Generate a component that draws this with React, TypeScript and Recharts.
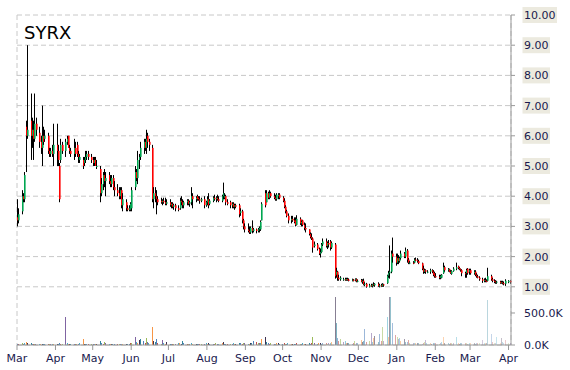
import { Bar, BarChart, CartesianGrid, Cell, ComposedChart, XAxis, YAxis } from "recharts";

const GREEN = "#00A651";
const RED = "#FF0000";
const NAVY = "#1A1A4E";
const AXIS = "#999999";
const FONT = "DejaVu Sans, Verdana, sans-serif";

const MONTH_LABELS = ["Mar", "Apr", "May", "Jun", "Jul", "Aug", "Sep", "Oct", "Nov", "Dec", "Jan", "Feb", "Mar", "Apr"];
const PRICE_TICKS = [1, 2, 3, 4, 5, 6, 7, 8, 9, 10];
const VOLUME_TICKS = [0, 500];

// one row per month, one value per trading day (prices in $, volume in thousands)
const OPEN = [
  [3.3, 3.2, 3.5, 4.0, 3.9, 6.3, 6.0, 6.5, 6.0, 6.2, 5.9, 6.4, 6.1, 5.8, 5.6, 6.0, 5.9, 6.0, 5.5, 5.4, 5.5, 5.4],
  [5.7, 5.5, 5.0, 5.2, 5.7, 5.5, 5.8, 6.0, 5.6, 5.5, 5.4, 5.6, 5.7, 5.4, 5.2, 5.2, 5.1, 5.2, 5.3, 5.4, 5.3],
  [5.2, 5.1, 5.2, 5.0, 4.9, 4.1, 4.4, 4.7, 4.5, 4.7, 4.5, 4.4, 4.6, 4.3, 4.2, 4.1, 4.0, 4.2, 3.7, 3.8, 3.6, 3.55, 3.55],
  [3.6, 4.3, 4.8, 4.6, 5.2, 5.3, 5.6, 5.8, 5.6, 6.0, 5.8, 5.6, 3.9, 4.1, 4.0, 3.9, 3.85, 3.8, 3.85, 3.8, 3.75],
  [3.8, 3.7, 3.75, 3.65, 3.7, 3.6, 3.6, 3.85, 3.8, 3.7, 3.8, 3.85, 3.75, 3.8, 4.0, 3.9, 4.0, 3.95, 3.9, 3.85, 3.9, 3.7],
  [3.8, 3.9, 3.75, 3.85, 3.95, 3.9, 3.95, 3.9, 3.85, 4.0, 3.95, 4.0, 3.8, 3.8, 3.7, 3.75, 3.65, 3.7, 3.7, 3.45, 3.5, 3.2, 3.0],
  [2.9, 2.85, 2.8, 2.95, 2.85, 2.9, 2.85, 2.9, 2.9, 3.2, 4.1, 3.8, 4.1, 3.95, 4.1, 4.0, 3.95, 3.9, 4.0, 4.05],
  [3.95, 3.85, 3.65, 3.5, 3.35, 3.2, 3.25, 3.2, 3.2, 3.05, 3.25, 3.1, 3.2, 3.05, 2.95, 2.9, 2.75, 2.65, 2.6, 2.35, 2.4, 2.25, 2.1],
  [2.15, 2.4, 2.5, 2.35, 2.45, 2.5, 2.3, 2.4, 1.4, 1.5, 1.3, 1.25, 1.25, 1.25, 1.22, 1.26, 1.24, 1.22, 1.24, 1.22, 1.25, 1.18],
  [1.22, 1.17, 1.2, 1.08, 1.1, 1.0, 1.05, 1.02, 1.08, 1.05, 1.1, 1.02, 1.05, 1.02, 1.08, 1.12, 1.37, 1.45, 1.5, 2.1, 2.0],
  [1.8, 1.95, 1.85, 1.95, 2.1, 2.0, 2.2, 1.9, 1.8, 1.8, 1.8, 1.9, 1.88, 1.85, 1.78, 1.6, 1.5, 1.55, 1.5, 1.5, 1.55, 1.5, 1.45],
  [1.35, 1.33, 1.3, 1.3, 1.45, 1.65, 1.55, 1.58, 1.5, 1.43, 1.52, 1.6, 1.68, 1.62, 1.58, 1.55, 1.45, 1.45, 1.6, 1.5],
  [1.55, 1.45, 1.5, 1.4, 1.35, 1.3, 1.25, 1.2, 1.22, 1.2, 1.2, 1.35, 1.25, 1.2, 1.18, 1.15, 1.17, 1.12, 1.15, 1.12, 1.1],
  [1.15, 1.2],
];

const HIGH = [
  [3.9, 3.6, 4.2, 4.1, 4.8, 6.5, 9.0, 7.4, 6.6, 6.5, 7.4, 6.6, 6.3, 6.0, 7.0, 6.3, 6.2, 6.1, 5.6, 5.6, 5.7, 6.4],
  [6.4, 5.7, 5.1, 5.9, 5.8, 5.9, 6.0, 6.0, 5.7, 5.6, 5.9, 5.8, 5.8, 5.5, 5.4, 5.3, 5.3, 5.5, 5.5, 5.5, 5.4],
  [5.3, 5.3, 5.3, 5.2, 5.0, 4.6, 4.8, 4.9, 4.8, 4.8, 4.7, 4.7, 4.7, 4.5, 4.4, 4.3, 4.3, 4.3, 4.1, 3.9, 3.7, 3.7, 3.8],
  [4.3, 5.0, 4.9, 5.5, 5.4, 5.8, 5.9, 5.9, 6.2, 6.1, 5.9, 5.7, 4.3, 4.3, 4.2, 4.0, 3.95, 3.9, 3.95, 3.95, 3.9],
  [3.9, 3.8, 3.8, 3.75, 3.75, 3.7, 3.95, 4.0, 3.9, 3.85, 3.9, 3.9, 3.85, 4.3, 4.1, 4.0, 4.05, 4.0, 4.0, 3.95, 4.0, 3.85],
  [4.0, 4.1, 3.9, 4.0, 4.05, 4.0, 4.05, 4.0, 4.05, 4.45, 4.1, 4.05, 3.9, 3.85, 3.8, 3.8, 3.75, 3.75, 3.75, 3.6, 3.55, 3.25, 3.1],
  [3.1, 3.0, 3.0, 3.2, 2.95, 2.93, 2.95, 3.0, 3.2, 3.8, 4.2, 4.2, 4.15, 4.2, 4.15, 4.1, 4.05, 4.1, 4.1, 4.1],
  [4.0, 3.93, 3.7, 3.55, 3.43, 3.35, 3.35, 3.3, 3.3, 3.37, 3.3, 3.2, 3.22, 3.13, 3.1, 2.9, 2.8, 2.77, 2.63, 2.5, 2.45, 2.3, 2.27],
  [2.45, 2.6, 2.6, 2.5, 2.55, 2.55, 2.5, 2.45, 1.63, 1.53, 1.4, 1.35, 1.3, 1.3, 1.3, 1.3, 1.28, 1.27, 1.26, 1.28, 1.28, 1.24],
  [1.26, 1.25, 1.27, 1.15, 1.13, 1.1, 1.1, 1.1, 1.15, 1.12, 1.15, 1.1, 1.1, 1.12, 1.1, 1.4, 1.53, 2.37, 2.2, 2.63, 2.1],
  [2.1, 2.05, 2.0, 2.2, 2.15, 2.3, 2.25, 1.95, 1.85, 1.85, 1.95, 1.97, 1.95, 1.9, 1.8, 1.7, 1.6, 1.58, 1.55, 1.6, 1.58, 1.55, 1.5],
  [1.45, 1.4, 1.4, 1.42, 1.8, 1.7, 1.62, 1.6, 1.55, 1.55, 1.65, 1.8, 1.7, 1.65, 1.6, 1.58, 1.5, 1.6, 1.62, 1.6],
  [1.6, 1.55, 1.55, 1.45, 1.4, 1.35, 1.3, 1.28, 1.3, 1.25, 1.63, 1.4, 1.3, 1.25, 1.22, 1.2, 1.2, 1.2, 1.2, 1.18, 1.25],
  [1.22, 1.22],
];

const LOW = [
  [3.0, 3.1, 3.4, 3.8, 3.8, 4.8, 5.9, 5.2, 5.6, 5.2, 5.8, 6.0, 5.6, 5.4, 5.0, 5.7, 5.8, 5.4, 5.3, 5.3, 5.3, 5.0],
  [5.0, 5.0, 3.8, 5.1, 5.4, 5.3, 5.7, 5.6, 5.4, 5.3, 5.2, 5.3, 5.3, 5.1, 5.1, 4.9, 5.0, 5.1, 5.2, 5.2, 5.1],
  [5.0, 5.0, 5.0, 4.9, 3.8, 4.0, 4.2, 4.3, 4.0, 4.4, 4.3, 4.3, 4.2, 4.0, 4.0, 3.9, 3.9, 3.6, 3.5, 3.5, 3.5, 3.5, 3.5],
  [3.5, 4.2, 4.5, 4.4, 4.9, 5.2, 5.4, 5.5, 5.4, 5.6, 5.5, 3.8, 3.6, 3.8, 3.4, 3.7, 3.75, 3.7, 3.75, 3.7, 3.7],
  [3.65, 3.6, 3.6, 3.55, 3.5, 3.5, 3.55, 3.7, 3.6, 3.6, 3.7, 3.7, 3.65, 3.7, 3.6, 3.8, 3.85, 3.85, 3.75, 3.8, 3.6, 3.65],
  [3.7, 3.6, 3.7, 3.8, 3.85, 3.8, 3.85, 3.8, 3.8, 3.9, 3.9, 3.7, 3.7, 3.6, 3.6, 3.6, 3.55, 3.6, 3.3, 3.35, 3.1, 2.9, 2.8],
  [2.8, 2.75, 2.75, 2.77, 2.8, 2.77, 2.8, 2.8, 2.85, 3.2, 3.63, 3.8, 3.9, 3.9, 3.95, 3.9, 3.85, 3.85, 3.9, 3.9],
  [3.8, 3.6, 3.43, 3.3, 3.1, 3.1, 3.15, 3.1, 3.0, 3.03, 3.05, 3.0, 3.0, 2.87, 2.8, 2.7, 2.6, 2.55, 2.13, 2.3, 2.2, 2.05, 1.97],
  [2.13, 2.35, 2.3, 2.25, 2.3, 2.2, 2.25, 1.27, 1.3, 1.2, 1.2, 1.2, 1.2, 1.2, 1.2, 1.2, 1.18, 1.18, 1.18, 1.18, 1.15, 1.15],
  [1.15, 1.1, 1.05, 1.02, 0.97, 0.98, 1.0, 0.98, 1.02, 1.0, 1.0, 0.98, 1.0, 1.0, 1.0, 1.1, 1.3, 1.27, 1.45, 1.8, 1.7],
  [1.75, 1.75, 1.8, 1.9, 1.95, 1.95, 1.8, 1.75, 1.75, 1.75, 1.78, 1.85, 1.8, 1.75, 1.55, 1.43, 1.45, 1.43, 1.45, 1.43, 1.45, 1.35, 1.3],
  [1.3, 1.25, 1.25, 1.28, 1.43, 1.5, 1.5, 1.48, 1.43, 1.4, 1.5, 1.55, 1.58, 1.55, 1.5, 1.35, 1.3, 1.3, 1.4, 1.4],
  [1.4, 1.4, 1.35, 1.3, 1.28, 1.2, 1.13, 1.15, 1.15, 1.15, 1.18, 1.2, 1.15, 1.12, 1.1, 1.1, 1.1, 1.1, 1.08, 1.05, 1.03],
  [1.12, 1.1],
];

const CLOSE = [
  [3.2, 3.4, 4.0, 3.9, 4.7, 6.0, 6.2, 6.0, 6.2, 5.9, 6.4, 6.2, 5.8, 5.6, 6.0, 5.8, 6.0, 5.5, 5.4, 5.5, 5.4, 5.7],
  [5.5, 5.2, 3.9, 5.7, 5.5, 5.8, 5.9, 5.6, 5.5, 5.4, 5.6, 5.4, 5.4, 5.3, 5.3, 5.0, 5.2, 5.3, 5.4, 5.3, 5.2],
  [5.1, 5.2, 5.0, 5.0, 4.1, 4.4, 4.7, 4.5, 4.6, 4.5, 4.4, 4.6, 4.3, 4.2, 4.1, 4.0, 4.2, 3.7, 3.9, 3.6, 3.55, 3.6, 3.75],
  [4.2, 4.8, 4.6, 5.2, 5.3, 5.6, 5.8, 5.6, 5.9, 5.8, 5.7, 3.9, 4.1, 4.0, 3.9, 3.8, 3.8, 3.85, 3.8, 3.75, 3.8],
  [3.7, 3.75, 3.65, 3.7, 3.6, 3.55, 3.85, 3.8, 3.7, 3.8, 3.85, 3.75, 3.8, 4.0, 3.9, 3.95, 3.9, 3.9, 3.85, 3.9, 3.7, 3.8],
  [3.9, 3.7, 3.85, 3.95, 3.9, 3.95, 3.9, 3.85, 4.0, 4.1, 4.0, 3.8, 3.75, 3.7, 3.75, 3.65, 3.7, 3.65, 3.4, 3.5, 3.2, 3.0, 2.9],
  [2.85, 2.8, 2.95, 2.85, 2.9, 2.85, 2.9, 2.95, 3.15, 3.75, 3.7, 4.1, 3.95, 4.1, 4.0, 3.95, 3.9, 4.05, 4.05, 3.95],
  [3.85, 3.65, 3.5, 3.35, 3.2, 3.25, 3.2, 3.15, 3.05, 3.25, 3.1, 3.15, 3.05, 2.95, 2.9, 2.75, 2.65, 2.6, 2.3, 2.4, 2.25, 2.1, 2.15],
  [2.4, 2.5, 2.35, 2.45, 2.4, 2.3, 2.45, 1.35, 1.5, 1.3, 1.25, 1.3, 1.25, 1.22, 1.26, 1.24, 1.2, 1.24, 1.2, 1.25, 1.18, 1.2],
  [1.17, 1.2, 1.08, 1.1, 1.0, 1.05, 1.02, 1.08, 1.05, 1.1, 1.02, 1.05, 1.02, 1.08, 1.05, 1.37, 1.45, 1.5, 2.1, 2.0, 1.8],
  [1.95, 1.85, 1.95, 2.1, 2.0, 2.2, 1.9, 1.8, 1.8, 1.78, 1.9, 1.88, 1.85, 1.78, 1.6, 1.5, 1.55, 1.5, 1.5, 1.55, 1.5, 1.4, 1.35],
  [1.33, 1.3, 1.35, 1.4, 1.65, 1.55, 1.58, 1.5, 1.45, 1.52, 1.6, 1.65, 1.62, 1.58, 1.55, 1.45, 1.42, 1.55, 1.45, 1.55],
  [1.45, 1.5, 1.4, 1.35, 1.3, 1.25, 1.2, 1.22, 1.2, 1.18, 1.35, 1.25, 1.2, 1.18, 1.15, 1.17, 1.12, 1.15, 1.12, 1.1, 1.2],
  [1.2, 1.15],
];

const VOLUME = [
  [20, 15, 25, 20, 30, 40, 35, 25, 20, 15, 20, 15, 10, 15, 20, 15, 10, 15, 10, 15, 10, 15],
  [15, 20, 30, 15, 10, 440, 25, 15, 20, 10, 15, 20, 10, 15, 30, 100, 20, 15, 10, 15, 20],
  [15, 10, 15, 20, 60, 25, 20, 50, 30, 20, 15, 10, 15, 20, 15, 20, 10, 15, 20, 15, 20, 15, 25],
  [25, 120, 40, 30, 80, 100, 60, 35, 110, 40, 30, 280, 60, 40, 100, 30, 20, 85, 25, 20, 45],
  [20, 15, 10, 15, 20, 25, 30, 20, 60, 25, 15, 20, 15, 35, 20, 15, 20, 10, 15, 20, 15, 25],
  [20, 25, 15, 20, 15, 25, 20, 15, 25, 40, 20, 15, 20, 15, 20, 25, 15, 20, 25, 30, 20, 35, 25],
  [20, 15, 25, 30, 65, 40, 25, 35, 30, 92, 118, 40, 25, 20, 30, 15, 20, 25, 30, 20],
  [20, 30, 15, 20, 25, 15, 20, 15, 20, 25, 15, 20, 25, 15, 20, 30, 20, 25, 120, 30, 20, 25, 30],
  [20, 25, 30, 20, 25, 30, 40, 750, 340, 110, 60, 90, 40, 70, 30, 25, 30, 20, 25, 60, 30, 25],
  [75, 40, 60, 245, 50, 60, 180, 40, 110, 140, 50, 170, 60, 280, 70, 445, 120, 750, 750, 350, 150],
  [120, 100, 110, 60, 100, 50, 40, 80, 35, 30, 25, 35, 30, 25, 20, 30, 45, 85, 30, 25, 20, 30, 25],
  [25, 20, 30, 40, 120, 35, 25, 20, 30, 25, 30, 120, 35, 20, 25, 30, 25, 35, 20, 25],
  [30, 25, 20, 35, 25, 30, 85, 30, 25, 35, 700, 170, 40, 30, 35, 120, 30, 110, 40, 30, 85],
  [30, 25],
];

const VOL_COLORS = ["#4F81BD", "#C0504D", "#9BBB59", "#8064A2", "#4BACC6", "#F79646", "#3F3151", "#31859C"];

const DAY = 86400000;
const START = Date.UTC(2018, 2, 1);
const MONTH_STARTS = MONTH_LABELS.map((_, m) => (Date.UTC(2018, 2 + m, 1) - START) / DAY);
const FADE_FROM = MONTH_STARTS[8];

type Row = { day: number; o: number; h: number; l: number; c: number; range: [number, number]; v: number };

const rows: Row[] = [];
MONTH_LABELS.forEach((_, m) => {
  let k = 0;
  for (let d = 1; d <= 31 && k < CLOSE[m].length; d++) {
    const t = Date.UTC(2018, 2 + m, d);
    const date = new Date(t);
    if (date.getUTCMonth() !== (2 + m) % 12) break;
    const wd = date.getUTCDay();
    if (wd === 0 || wd === 6) continue;
    rows.push({
      day: (t - START) / DAY,
      o: OPEN[m][k],
      h: HIGH[m][k],
      l: LOW[m][k],
      c: CLOSE[m][k],
      range: [LOW[m][k], HIGH[m][k]],
      v: VOLUME[m][k],
    });
    k++;
  }
});

// later bars are drawn paler, as in the source chart
const volOpacity = (day: number) => (day < FADE_FROM ? 1 : Math.max(0.3, 0.65 - ((day - FADE_FROM) / 150) * 0.35));

function Candle(props: any) {
  const { x, y, width, height, payload } = props;
  const { o, h, l, c } = payload as Row;
  const cx = Math.round(x + width / 2);
  const top = Math.min(y, y + height);
  const span = Math.abs(height);
  const ppu = h > l ? span / (h - l) : 0;
  const bTop = top + (h - Math.max(o, c)) * ppu;
  const bH = Math.max(1, Math.abs(o - c) * ppu);
  return (
    <g>
      <line x1={cx + 0.5} x2={cx + 0.5} y1={top} y2={top + Math.max(span, 1)} stroke="#000" strokeWidth={1} />
      <rect x={cx} y={bTop} width={1.6} height={bH} fill={c >= o ? GREEN : RED} />
    </g>
  );
}

function VolumeBar(props: any) {
  const { x, y, width, height, fill, fillOpacity } = props;
  const h = Math.max(1, Math.abs(height));
  const top = Math.min(y, y + height);
  return (
    <rect
      x={Math.round(x + width / 2)}
      y={top + Math.abs(height) - h}
      width={1}
      height={h}
      fill={fill}
      fillOpacity={fillOpacity}
      shapeRendering="crispEdges"
    />
  );
}

function PriceTick(props: any) {
  const { x, y, payload } = props;
  const label = Number(payload.value).toFixed(2);
  const w = (label.length - 1) * 7 + 3.5 + 3;
  return (
    <g>
      <rect x={x - 1.5} y={y - 8} width={w} height={16} fill="#ECEADF" />
      <text x={x} y={y} dy="0.36em" fontSize={11} fill={NAVY} fontFamily={FONT}>
        {label}
      </text>
    </g>
  );
}

const monthLabel = (v: number) => MONTH_LABELS[MONTH_STARTS.indexOf(v)] ?? "";

const MARGIN = { top: 15, right: 0, bottom: 0, left: 17 };
const X_DOMAIN: [number, number] = [0, 398];

export default function App() {
  return (
    <div style={{ position: "absolute", left: 0, top: 0, width: 570, height: 370, background: "#fff" }}>
      <div style={{ position: "absolute", left: 0, top: 0 }}>
        <ComposedChart width={570} height={370} data={rows} margin={MARGIN}>
          <CartesianGrid yAxisId="p" stroke="#C8C8C8" strokeDasharray="5 3" />
          <XAxis
            dataKey="day"
            type="number"
            domain={X_DOMAIN}
            ticks={MONTH_STARTS}
            height={25}
            tick={false}
            axisLine={false}
            tickLine={false}
          />
          <YAxis
            yAxisId="p"
            orientation="right"
            domain={[-0.927, 10]}
            allowDataOverflow
            ticks={PRICE_TICKS}
            width={59}
            stroke={AXIS}
            tickSize={4}
            tickMargin={9}
            tick={PriceTick}
          />
          <Bar yAxisId="p" dataKey="range" barSize={2} shape={Candle} isAnimationActive={false} />
        </ComposedChart>
      </div>
      <div style={{ position: "absolute", left: 0, top: 0 }}>
        <BarChart width={570} height={370} data={rows} margin={MARGIN}>
          <XAxis
            dataKey="day"
            type="number"
            domain={X_DOMAIN}
            ticks={MONTH_STARTS}
            height={25}
            tickFormatter={monthLabel}
            stroke={AXIS}
            tickSize={5}
            tickMargin={4}
            tick={{ fontSize: 11, fill: NAVY, fontFamily: FONT }}
            interval={0}
          />
          <YAxis
            orientation="right"
            domain={[0, 5156]}
            allowDataOverflow
            ticks={VOLUME_TICKS}
            width={59}
            axisLine={false}
            stroke={AXIS}
            tickSize={4}
            tickMargin={9}
            tickFormatter={(v: number) => `${v.toFixed(1)}K`}
            tick={{ fontSize: 11, fill: NAVY, fontFamily: FONT, textAnchor: "start" }}
          />
          <Bar dataKey="v" barSize={1} shape={VolumeBar} isAnimationActive={false}>
            {rows.map((r, i) => (
              <Cell key={r.day} fill={VOL_COLORS[i % VOL_COLORS.length]} fillOpacity={volOpacity(r.day)} />
            ))}
          </Bar>
        </BarChart>
      </div>
      <div
        style={{
          position: "absolute",
          left: 24,
          top: 24,
          fontFamily: FONT,
          fontSize: 18,
          lineHeight: 1,
          color: "#000",
        }}
      >
        SYRX
      </div>
    </div>
  );
}
